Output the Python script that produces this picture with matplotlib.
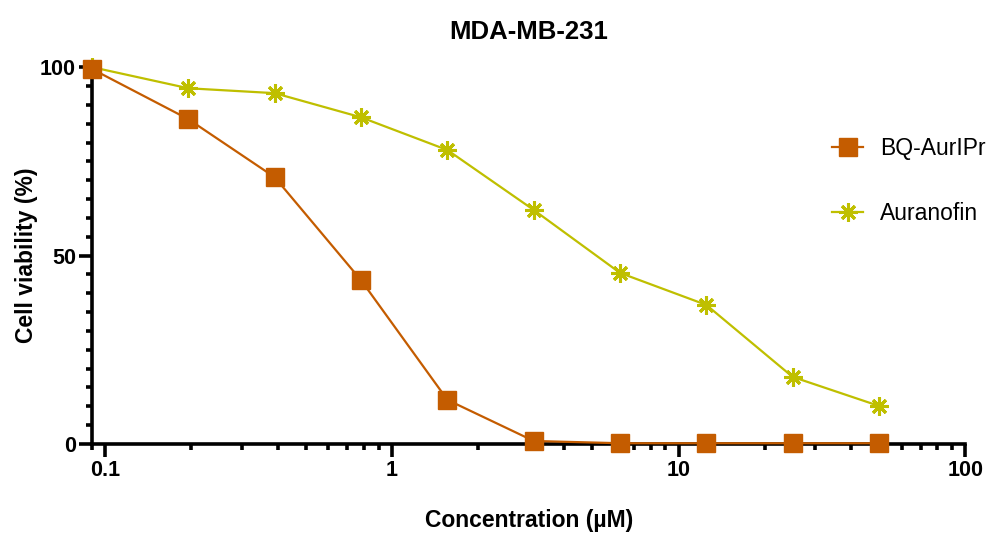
import matplotlib
matplotlib.use("Agg")
import matplotlib.pyplot as plt
from matplotlib.ticker import FixedLocator, MultipleLocator, LogLocator, NullFormatter, FixedFormatter

plt.rcParams['font.family'] = ['Liberation Sans', 'DejaVu Sans']

# Serial dilution concentrations (µM)
concentration = [0.09, 0.195, 0.39, 0.78, 1.5625, 3.125, 6.25, 12.5, 25, 50]
bq_auripr = [99.5, 86.2, 70.8, 43.5, 11.7, 0.8, 0.2, 0.2, 0.2, 0.2]
auranofin = [100.0, 94.4, 93.1, 86.7, 78.0, 62.1, 45.4, 36.9, 17.8, 10.1]

x_ticks = [0.1, 1, 10, 100]
x_tick_labels = ["0.1", "1", "10", "100"]
y_ticks = [0, 50, 100]

c_bq = "#C45C00"
c_au = "#BFBF00"

fig = plt.figure(figsize=(9.9, 5.33), dpi=100)
ax = fig.add_axes([0.093, 0.167, 0.882, 0.707])

ax.plot(concentration, bq_auripr, color=c_bq, lw=1.6, marker='s', ms=13.5,
        mec=c_bq, mfc=c_bq, label="BQ-AurIPr", zorder=4, clip_on=False)
ax.plot(concentration, auranofin, color=c_au, lw=1.6, marker=(8, 2, 0), ms=13,
        mew=2.2, mec=c_au, label="Auranofin", zorder=3, clip_on=False)

ax.set_xscale('log')
ax.set_xlim(0.09, 100)
ax.set_ylim(0, 100)

ax.xaxis.set_major_locator(FixedLocator(x_ticks))
ax.xaxis.set_major_formatter(FixedFormatter(x_tick_labels))
ax.xaxis.set_minor_locator(LogLocator(base=10, subs=range(2, 10)))
ax.xaxis.set_minor_formatter(NullFormatter())
ax.yaxis.set_major_locator(FixedLocator(y_ticks))
ax.yaxis.set_minor_locator(MultipleLocator(5))

for s in ['top', 'right']:
    ax.spines[s].set_visible(False)
for s in ['left', 'bottom']:
    ax.spines[s].set_linewidth(2.6)

ax.tick_params(axis='both', which='major', length=9.5, width=2.6, labelsize=15.5, pad=2)
ax.tick_params(axis='both', which='minor', length=4.5, width=2.6)
for lab in ax.get_xticklabels() + ax.get_yticklabels():
    lab.set_fontweight('bold')

ax.set_title("MDA-MB-231", fontsize=18.5, fontweight='bold', pad=20)
ax.set_xlabel("Concentration (µM)", fontsize=16.5, fontweight='bold', labelpad=20)
ax.set_ylabel("Cell viability (%)", fontsize=16.5, fontweight='bold')
ax.yaxis.set_label_coords(-0.062, 0.5)

ax.legend(loc='upper left', bbox_to_anchor=(0.837, 0.84), frameon=False,
          fontsize=16.5, labelspacing=1.85, handlelength=1.35, handletextpad=0.75,
          borderaxespad=0)

fig.savefig("out.png", dpi=100)
